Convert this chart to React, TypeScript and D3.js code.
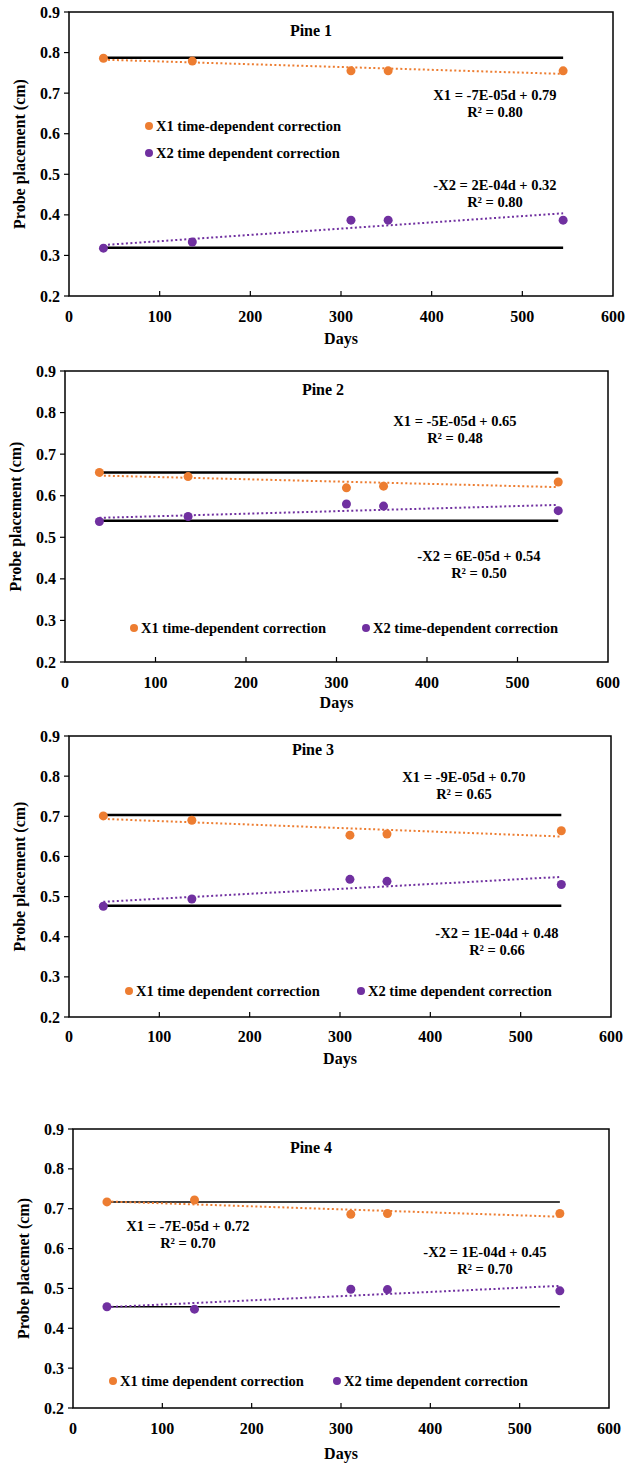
import React, { useEffect, useRef } from 'react';
import * as d3 from 'd3';

// sampling days (same for every pine)
const days = [38, 136, 311, 352, 545];

// measured probe placement (cm)
const pine1X1 = [0.786, 0.779, 0.755, 0.755, 0.755];
const pine1X2 = [0.318, 0.333, 0.387, 0.387, 0.387];
const pine2X1 = [0.656, 0.646, 0.619, 0.623, 0.633];
const pine2X2 = [0.538, 0.55, 0.58, 0.575, 0.564];
const pine3X1 = [0.701, 0.69, 0.653, 0.656, 0.664];
const pine3X2 = [0.476, 0.494, 0.543, 0.538, 0.53];
const pine4X1 = [0.717, 0.722, 0.686, 0.688, 0.688];
const pine4X2 = [0.454, 0.448, 0.498, 0.497, 0.494];

// initial placement reference lines
const baseX1 = [0.787, 0.656, 0.703, 0.717];
const baseX2 = [0.319, 0.54, 0.477, 0.454];

const titles = ['Pine 1', 'Pine 2', 'Pine 3', 'Pine 4'];
const x1Eq = ['X1 = -7E-05d + 0.79', 'X1 = -5E-05d + 0.65', 'X1 = -9E-05d + 0.70', 'X1 = -7E-05d + 0.72'];
const x1R2 = ['R² = 0.80', 'R² = 0.48', 'R² = 0.65', 'R² = 0.70'];
const x2Eq = ['-X2 = 2E-04d + 0.32', '-X2 = 6E-05d + 0.54', '-X2 = 1E-04d + 0.48', '-X2 = 1E-04d + 0.45'];
const x2R2 = ['R² = 0.80', 'R² = 0.50', 'R² = 0.66', 'R² = 0.70'];
const x1Legend = ['X1 time-dependent correction', 'X1 time-dependent correction', 'X1 time dependent correction', 'X1 time dependent correction'];
const x2Legend = ['X2 time dependent correction', 'X2 time-dependent correction', 'X2 time dependent correction', 'X2 time dependent correction'];
const yTitles = ['Probe placement (cm)', 'Probe placement (cm)', 'Probe placement (cm)', 'Probe placemet (cm)'];
const xTicks = [0, 100, 200, 300, 400, 500, 600];
const yTicks = [0.2, 0.3, 0.4, 0.5, 0.6, 0.7, 0.8, 0.9];

const series = [
  [pine1X1, pine1X2],
  [pine2X1, pine2X2],
  [pine3X1, pine3X2],
  [pine4X1, pine4X2],
];

// panel layout (pixels)
const layouts = [
  { l: 69, r: 613, t: 12, b: 296, title: [311, 30], eq1: [495, 95], eq2: [495, 185], leg: [[149, 126], [149, 153]], tickY: 316, daysY: 338, baseW: 2.5 },
  { l: 65, r: 608, t: 371, b: 662, title: [323, 389], eq1: [455, 421], eq2: [479, 556], leg: [[134, 628], [366, 628]], tickY: 682, daysY: 702, baseW: 2.5 },
  { l: 69, r: 611, t: 736, b: 1017, title: [313, 749], eq1: [464, 777], eq2: [497, 933], leg: [[129, 991], [361, 991]], tickY: 1036, daysY: 1058, baseW: 2.5 },
  { l: 73, r: 609, t: 1129, b: 1408, title: [311, 1147], eq1: [188, 1226], eq2: [485, 1252], leg: [[113, 1381], [337, 1381]], tickY: 1428, daysY: 1453, baseW: 1.5 },
];

const ORANGE = '#ED7D31';
const PURPLE = '#7030A0';
const FONT = '"Liberation Serif", "Times New Roman", serif';

// least squares trend
const fit = (xs: number[], ys: number[]) => {
  const mx = d3.mean(xs) as number;
  const my = d3.mean(ys) as number;
  const sxy = d3.sum(xs, (x, i) => (x - mx) * (ys[i] - my));
  const sxx = d3.sum(xs, (x) => (x - mx) * (x - mx));
  const m = sxy / sxx;
  return { m, c: my - m * mx };
};

const App = () => {
  const ref = useRef<SVGSVGElement>(null);

  useEffect(() => {
    const svg = d3.select(ref.current);
    svg.selectAll('*').remove();

    layouts.forEach((L, p) => {
      const x = d3.scaleLinear().domain([0, 600]).range([L.l, L.r]);
      const y = d3.scaleLinear().domain([0.2, 0.9]).range([L.b, L.t]);
      const g = svg.append('g').style('font-family', FONT).style('font-weight', 'bold');

      // frame
      g.append('rect')
        .attr('x', L.l).attr('y', L.t)
        .attr('width', L.r - L.l).attr('height', L.b - L.t)
        .attr('fill', 'none').attr('stroke', '#000').attr('stroke-width', 1.5);

      // y ticks
      yTicks.forEach((v) => {
        g.append('line')
          .attr('x1', L.l - 5).attr('x2', L.l)
          .attr('y1', y(v)).attr('y2', y(v))
          .attr('stroke', '#000').attr('stroke-width', 1.2);
        g.append('text')
          .attr('x', L.l - 9).attr('y', y(v))
          .attr('text-anchor', 'end').attr('dominant-baseline', 'central')
          .style('font-size', '16px')
          .text(v.toFixed(1));
      });

      // x ticks
      xTicks.forEach((v) => {
        if (v > 0 && v < 600) {
          g.append('line')
            .attr('x1', x(v)).attr('x2', x(v))
            .attr('y1', L.b).attr('y2', L.b - 5)
            .attr('stroke', '#000').attr('stroke-width', 1.2);
        }
        g.append('text')
          .attr('x', x(v)).attr('y', L.tickY)
          .attr('text-anchor', 'middle').attr('dominant-baseline', 'central')
          .style('font-size', '16px')
          .text(v);
      });

      g.append('text')
        .attr('x', (L.l + L.r) / 2).attr('y', L.daysY)
        .attr('text-anchor', 'middle').attr('dominant-baseline', 'central')
        .style('font-size', '16px')
        .text('Days');

      g.append('text')
        .attr('transform', `translate(${L.l - 50},${(L.t + L.b) / 2}) rotate(-90)`)
        .attr('text-anchor', 'middle').attr('dominant-baseline', 'central')
        .style('font-size', '16px')
        .text(yTitles[p]);

      // reference lines
      [baseX1[p], baseX2[p]].forEach((v) => {
        g.append('line')
          .attr('x1', x(days[0])).attr('x2', x(days[days.length - 1]))
          .attr('y1', y(v)).attr('y2', y(v))
          .attr('stroke', '#000').attr('stroke-width', L.baseW);
      });

      // trendlines + points
      const colors = [ORANGE, PURPLE];
      series[p].forEach((vals, k) => {
        const { m, c } = fit(days, vals);
        const ends = [days[0], days[days.length - 1]];
        const line = d3.line<number>().x((d) => x(d)).y((d) => y(m * d + c));
        g.append('path')
          .attr('d', line(ends))
          .attr('fill', 'none')
          .attr('stroke', colors[k])
          .attr('stroke-width', 2)
          .attr('stroke-dasharray', '2 2.5');
        g.selectAll(null)
          .data(days)
          .enter().append('circle')
          .attr('cx', (d) => x(d))
          .attr('cy', (d, i) => y(vals[i]))
          .attr('r', 4.5)
          .attr('fill', colors[k]);
      });

      // title
      g.append('text')
        .attr('x', L.title[0]).attr('y', L.title[1])
        .attr('text-anchor', 'middle').attr('dominant-baseline', 'central')
        .style('font-size', '16px')
        .text(titles[p]);

      // equations
      [[L.eq1, x1Eq[p], x1R2[p]], [L.eq2, x2Eq[p], x2R2[p]]].forEach(([pos, eq, r2]: any) => {
        g.append('text')
          .attr('x', pos[0]).attr('y', pos[1])
          .attr('text-anchor', 'middle').attr('dominant-baseline', 'central')
          .style('font-size', '14.5px')
          .text(eq);
        g.append('text')
          .attr('x', pos[0]).attr('y', pos[1] + 16.5)
          .attr('text-anchor', 'middle').attr('dominant-baseline', 'central')
          .style('font-size', '14.5px')
          .text(r2);
      });

      // legend
      [x1Legend[p], x2Legend[p]].forEach((label, k) => {
        const [lx, ly] = L.leg[k];
        g.append('circle')
          .attr('cx', lx).attr('cy', ly)
          .attr('r', 4)
          .attr('fill', colors[k]);
        g.append('text')
          .attr('x', lx + 7).attr('y', ly)
          .attr('dominant-baseline', 'central')
          .style('font-size', '14.5px')
          .text(label);
      });
    });
  }, []);

  return (
    <svg
      ref={ref}
      width={628}
      height={1465}
      style={{ position: 'absolute', left: 0, top: 0, background: '#fff' }}
    />
  );
};

export default App;
